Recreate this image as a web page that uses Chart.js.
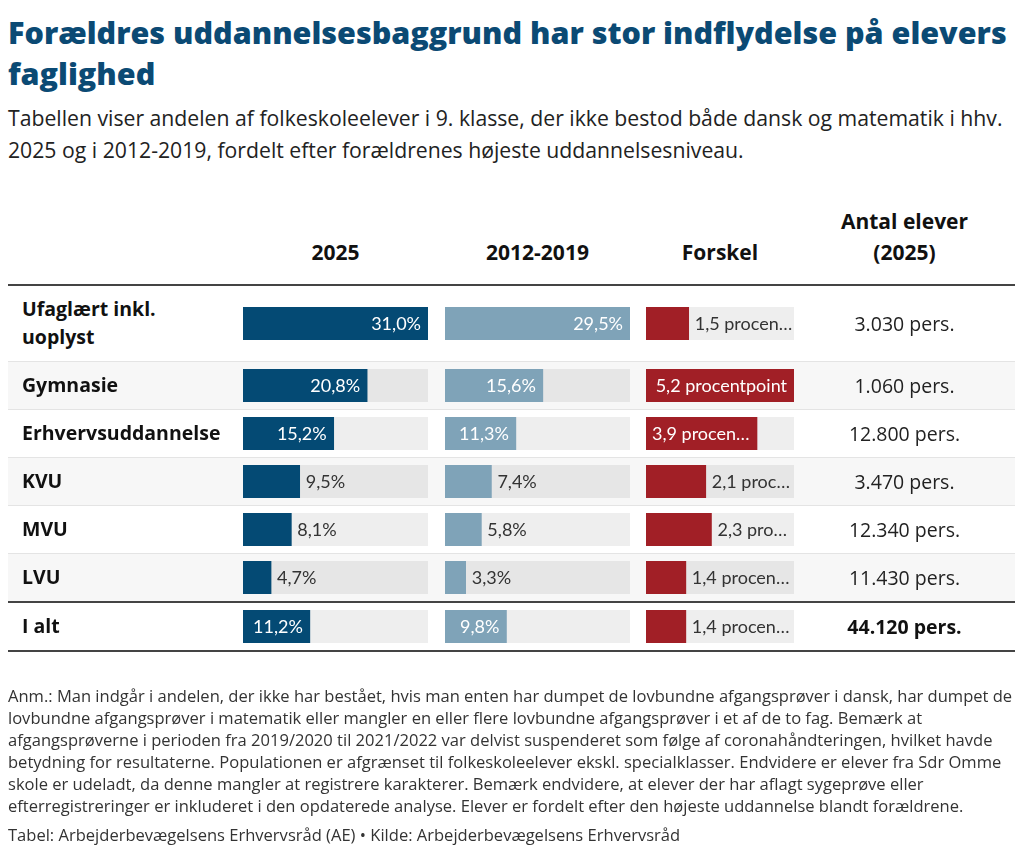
<!DOCTYPE html>
<html lang="da">
<head>
  <meta charset="UTF-8">
  <title>Forældres uddannelsesbaggrund</title>
  <script src="https://cdn.jsdelivr.net/npm/chart.js"></script>
  <style>
    body {
      margin: 0;
      padding: 0 9px 0 8px;
      background: #fff;
      font-family: 'Open Sans', 'Noto Sans', sans-serif;
      color: #222;
      width: 1007px;
    }
    h1 {
      margin: 12px 0 0 0;
      font-size: 30px;
      line-height: 41px;
      font-weight: 800;
      color: #0b4a74;
      white-space: nowrap;
    }
    .subtitle {
      margin: 8px 0 0 0;
      font-size: 19px;
      line-height: 32px;
      color: #222;
      white-space: nowrap;
    }
    table {
      margin-top: 40px;
      border-collapse: collapse;
      width: 1007px;
      table-layout: fixed;
    }
    th {
      font-size: 21px;
      font-weight: 700;
      line-height: 31px;
      color: #111;
      vertical-align: bottom;
      padding: 0 0 16px 0;
      border-bottom: 2px solid #444;
      text-align: center;
    }
    td {
      padding: 0;
      vertical-align: middle;
      border-bottom: 1px solid #e4e4e4;
    }
    td.label {
      font-weight: 700;
      font-size: 19.5px;
      line-height: 28px;
      padding: 9px 2px 10px 14px;
      color: #111;
      white-space: pre-line;
    }
    td.bar canvas { display: block; }
    td.count {
      text-align: center;
      font-size: 19.5px;
      color: #222;
    }
    tr.shade td { background: #f7f7f7; }
    tr.total td { border-top: 2px solid #444; border-bottom: 2px solid #444; }
    tr.total td.count { font-weight: 700; color: #111; }
    .notes {
      margin-top: 33px;
      font-size: 15px;
      line-height: 22px;
      color: #333;
      white-space: nowrap;
    }
    .source {
      margin-top: 7px;
      font-size: 15px;
      line-height: 22px;
      color: #333;
      white-space: nowrap;
    }
  </style>
</head>
<body>
  <h1 id="title"><span>Forældres uddannelsesbaggrund har stor indflydelse på elevers</span><br><span>faglighed</span></h1>
  <div class="subtitle" id="subtitle"><span>Tabellen viser andelen af folkeskoleelever i 9. klasse, der ikke bestod både dansk og matematik i hhv.</span><br><span>2025 og i 2012-2019, fordelt efter forældrenes højeste uddannelsesniveau.</span></div>

  <table id="tbl">
    <colgroup>
      <col style="width:235px">
      <col style="width:202px">
      <col style="width:201px">
      <col style="width:148px">
      <col style="width:221px">
    </colgroup>
    <thead><tr id="headRow"></tr></thead>
    <tbody id="body"></tbody>
  </table>

  <div class="notes" id="notes"><span>Anm.: Man indgår i andelen, der ikke har bestået, hvis man enten har dumpet de lovbundne afgangsprøver i dansk, har dumpet de</span><br><span>lovbundne afgangsprøver i matematik eller mangler en eller flere lovbundne afgangsprøver i et af de to fag. Bemærk at</span><br><span>afgangsprøverne i perioden fra 2019/2020 til 2021/2022 var delvist suspenderet som følge af coronahåndteringen, hvilket havde</span><br><span>betydning for resultaterne. Populationen er afgrænset til folkeskoleelever ekskl. specialklasser. Endvidere er elever fra Sdr Omme</span><br><span>skole er udeladt, da denne mangler at registrere karakterer. Bemærk endvidere, at elever der har aflagt sygeprøve eller</span><br><span>efterregistreringer er inkluderet i den opdaterede analyse. Elever er fordelt efter den højeste uddannelse blandt forældrene.</span></div>
  <div class="source" id="source"><span>Tabel: Arbejderbevægelsens Erhvervsråd (AE) • Kilde: Arbejderbevægelsens Erhvervsråd</span></div>

  <script>
    // Data
    const categories = ['Ufaglært inkl.\nuoplyst', 'Gymnasie', 'Erhvervsuddannelse', 'KVU', 'MVU', 'LVU', 'I alt'];
    const share2025 = [31.0, 20.8, 15.2, 9.5, 8.1, 4.7, 11.2];
    const share2012 = [29.5, 15.6, 11.3, 7.4, 5.8, 3.3, 9.8];
    const diffPoints = [1.5, 5.2, 3.9, 2.1, 2.3, 1.4, 1.4];
    const pupils2025 = [3030, 1060, 12800, 3470, 12340, 11430, 44120];
    const columnHeaders = ['', '2025', '2012-2019', 'Forskel', 'Antal elever\n(2025)'];

    // Scale a text block so its first line has the wanted width
    function fitBlock(id, target) {
      const el = document.getElementById(id);
      const base = parseFloat(getComputedStyle(el).fontSize);
      const w = el.querySelector('span').getBoundingClientRect().width;
      const size = base * target / w;
      el.style.fontSize = size + 'px';
      return size;
    }
    fitBlock('title', 999);
    fitBlock('subtitle', 995);
    const noteSize = fitBlock('notes', 1005);
    document.getElementById('source').style.fontSize = noteSize + 'px';

    // Utility: Danish number formats
    function pct(v) { return v.toFixed(1).replace('.', ',') + '%'; }
    function points(v) { return v.toFixed(1).replace('.', ',') + ' procentpoint'; }
    function thousands(v) { return String(v).replace(/\B(?=(\d{3})+(?!\d))/g, '.'); }

    // Cut text with an ellipsis so it fits maxW
    function fitText(ctx, text, maxW) {
      if (ctx.measureText(text).width <= maxW) return text;
      let t = text;
      while (t.length > 1 && ctx.measureText(t.trim() + '…').width > maxW) {
        t = t.slice(0, -1);
      }
      return t.trim() + '…';
    }

    // Plugin: value label inside or next to the bar
    const barLabel = {
      id: 'barLabel',
      afterDatasetsDraw(chart, args, opts) {
        const bar = chart.getDatasetMeta(0).data[0];
        const area = chart.chartArea;
        const ctx = chart.ctx;
        const pad = 7;
        const barW = bar.x - bar.base;
        ctx.save();
        ctx.font = '18px Lato, "Open Sans", sans-serif';
        ctx.textBaseline = 'middle';
        const tw = ctx.measureText(opts.text).width;
        const y = bar.y + 1;
        if (tw + 2 * pad <= barW && barW >= 60) {
          ctx.fillStyle = '#fff';
          ctx.textAlign = 'right';
          ctx.fillText(opts.text, bar.x - pad, y);
        } else if (barW > (area.right - area.left) / 2) {
          ctx.fillStyle = '#fff';
          ctx.textAlign = 'left';
          ctx.fillText(fitText(ctx, opts.text, barW - 10), bar.base + 6, y);
        } else {
          ctx.fillStyle = '#333';
          ctx.textAlign = 'left';
          ctx.fillText(fitText(ctx, opts.text, area.right - bar.x - 5), bar.x + 6, y);
        }
        ctx.restore();
      }
    };

    function makeBar(canvas, value, max, color, track, text) {
      new Chart(canvas.getContext('2d'), {
        type: 'bar',
        data: {
          labels: [''],
          datasets: [
            { data: [value], backgroundColor: color, grouped: false, order: 1,
              barPercentage: 1, categoryPercentage: 1 },
            { data: [max], backgroundColor: track, grouped: false, order: 2,
              barPercentage: 1, categoryPercentage: 1 }
          ]
        },
        options: {
          indexAxis: 'y',
          responsive: false,
          animation: false,
          events: [],
          layout: { padding: 0 },
          scales: {
            x: { display: false, min: 0, max: max },
            y: { display: false }
          },
          plugins: {
            legend: { display: false },
            tooltip: { enabled: false },
            barLabel: { text: text }
          }
        },
        plugins: [barLabel]
      });
    }

    // Header
    const headRow = document.getElementById('headRow');
    columnHeaders.forEach((h, i) => {
      const th = document.createElement('th');
      th.innerHTML = h.replace('\n', '<br>');
      if (i === 1) th.style.paddingRight = '17px';
      if (i === 2) th.style.paddingRight = '16px';
      headRow.appendChild(th);
    });

    const max2025 = Math.max(...share2025);
    const max2012 = Math.max(...share2012);
    const maxDiff = Math.max(...diffPoints);

    const body = document.getElementById('body');
    categories.forEach((cat, i) => {
      const tr = document.createElement('tr');
      if (i % 2 === 1) tr.className = 'shade';
      if (i === categories.length - 1) tr.className = 'total';
      const track = i % 2 === 1 ? '#e6e6e6' : '#eeeeee';

      const tdL = document.createElement('td');
      tdL.className = 'label';
      tdL.textContent = cat;
      tr.appendChild(tdL);

      const cols = [
        { w: 185, pr: 17, v: share2025[i], max: max2025, c: '#044a74', t: pct(share2025[i]) },
        { w: 185, pr: 16, v: share2012[i], max: max2012, c: '#7fa3b8', t: pct(share2012[i]) },
        { w: 148, pr: 0, v: diffPoints[i], max: maxDiff, c: '#a11f26', t: points(diffPoints[i]) }
      ];
      const pending = [];
      cols.forEach(col => {
        const td = document.createElement('td');
        td.className = 'bar';
        td.style.paddingRight = col.pr + 'px';
        const cv = document.createElement('canvas');
        cv.width = col.w;
        cv.height = 33;
        cv.style.width = col.w + 'px';
        cv.style.height = '33px';
        td.appendChild(cv);
        tr.appendChild(td);
        pending.push([cv, col]);
      });

      const tdC = document.createElement('td');
      tdC.className = 'count';
      tdC.textContent = thousands(pupils2025[i]) + ' pers.';
      tr.appendChild(tdC);

      body.appendChild(tr);
      pending.forEach(([cv, col]) => makeBar(cv, col.v, col.max, col.c, track, col.t));
    });
  </script>
</body>
</html>
